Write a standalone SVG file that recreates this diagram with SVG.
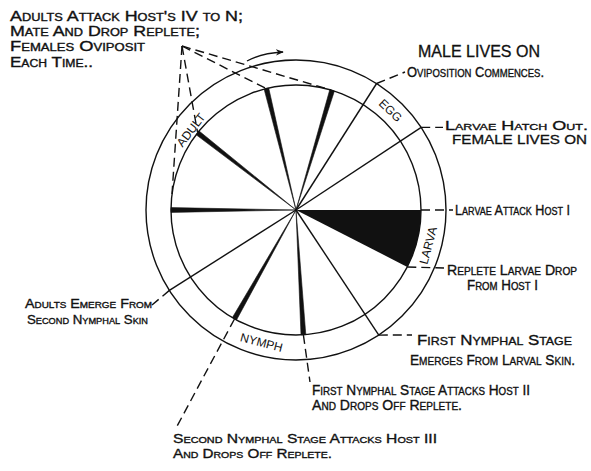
<svg xmlns="http://www.w3.org/2000/svg" width="591" height="471" viewBox="0 0 591 471">
<defs>
<marker id="ah" viewBox="0 0 10 10" refX="9" refY="5" markerWidth="8" markerHeight="8" orient="auto" markerUnits="userSpaceOnUse">
<path d="M0,1 L10,5 L0,9 L3,5 Z" fill="#111"/>
</marker>
<style>
.t{font-family:"Liberation Sans",Arial,sans-serif;font-variant:small-caps;fill:#111;stroke:#111;stroke-width:0.35;}
.c{font-family:"Liberation Sans",Arial,sans-serif;fill:#111;stroke:#111;stroke-width:0.3;}
.ring{font-family:"Liberation Sans",Arial,sans-serif;fill:#111;font-size:12px;text-anchor:middle;dominant-baseline:central;}
.ln{stroke:#111;stroke-width:1.4;fill:none;}
.ds{stroke:#111;stroke-width:1.4;fill:none;stroke-dasharray:9 5;}
.thick{fill:#111;stroke:#111;stroke-width:0.6;}
</style>
</defs>
<rect width="591" height="471" fill="#fff"/>

<g id="wheel">
<circle class="ln" cx="296" cy="210" r="150"/>
<circle class="ln" cx="296" cy="210" r="125"/>
<path d="M296,210 L421,210 A125,125 0 0 1 407.3,266.9 Z" fill="#111"/>
<polygon class="thick" points="296,210 171,212.4 171,207.6"/>
<polygon class="thick" points="296,210 199.1,131 196.2,134.8"/>
<polygon class="thick" points="296,210 268.7,88 264.1,89.1"/>
<polygon class="thick" points="296,210 334.4,91 329.8,89.6"/>
<polygon class="thick" points="296,210 232.4,317.6 236.5,320"/>
<polygon class="thick" points="296,210 301,334.9 305.8,334.7"/>
<line class="ln" x1="296" y1="210" x2="376.6" y2="83.5"/>
<line class="ln" x1="296" y1="210" x2="421.2" y2="127.4"/>
<line class="ln" x1="296" y1="210" x2="169.4" y2="290.4"/>
<line class="ln" x1="296" y1="210" x2="378.8" y2="335.1"/>
</g>

<g id="ring-labels">
<text class="ring" transform="translate(390.3,110.6) rotate(43.5)">EGG</text>
<text class="ring" transform="translate(191,130) rotate(-52.7)">ADULT</text>
<text class="ring" transform="translate(428.3,245.5) rotate(-75)">LARVA</text>
<text class="ring" transform="translate(261.5,342.6) rotate(14.6)">NYMPH</text>
</g>

<g id="connectors">
<line class="ds" x1="182" y1="46" x2="172" y2="194"/>
<line class="ds" x1="182" y1="46" x2="197.5" y2="132"/>
<line class="ds" x1="182" y1="46" x2="266" y2="88.5"/>
<line class="ds" x1="182" y1="46" x2="331" y2="90"/>
<path class="ln" d="M247,61 Q262,53 283,52" marker-end="url(#ah)"/>
<line class="ds" x1="376.6" y1="83.5" x2="405" y2="72"/>
<line class="ds" x1="421.2" y1="127.4" x2="443" y2="127.4"/>
<line class="ds" x1="421" y1="210" x2="453" y2="210"/>
<line class="ds" x1="407.3" y1="267" x2="444" y2="268"/>
<line class="ds" x1="378.8" y1="335.1" x2="412" y2="335"/>
<line class="ds" x1="169.4" y1="290.4" x2="152" y2="305"/>
<line class="ds" x1="234.5" y1="319" x2="175" y2="430"/>
<line class="ds" x1="303.4" y1="335" x2="310" y2="382"/>
</g>

<g id="adults-attack">
<text class="t" x="10" y="21" font-size="14" textLength="233" lengthAdjust="spacingAndGlyphs">Adults Attack Host's IV to N;</text>
<text class="t" x="10" y="36" font-size="14" textLength="190" lengthAdjust="spacingAndGlyphs">Mate And Drop Replete;</text>
<text class="t" x="10" y="51" font-size="14" textLength="135" lengthAdjust="spacingAndGlyphs">Females Oviposit</text>
<text class="t" x="10" y="67" font-size="14" textLength="83" lengthAdjust="spacingAndGlyphs">Each Time..</text>
</g>

<g id="oviposition">
<text class="c" x="418" y="57" font-size="16" textLength="122" lengthAdjust="spacingAndGlyphs">MALE LIVES ON</text>
<text class="t" x="407" y="77" font-size="15" textLength="137" lengthAdjust="spacingAndGlyphs">Oviposition Commences.</text>
</g>

<g id="larvae-hatch">
<text class="t" x="445" y="130" font-size="13" textLength="143" lengthAdjust="spacingAndGlyphs">Larvae Hatch Out.</text>
<text class="c" x="452" y="144" font-size="12.5" textLength="135" lengthAdjust="spacingAndGlyphs">FEMALE LIVES ON</text>
</g>

<g id="larvae-attack">
<text class="t" x="455" y="215" font-size="14" textLength="115" lengthAdjust="spacingAndGlyphs">Larvae Attack Host I</text>
</g>

<g id="replete-larvae">
<text class="t" x="447" y="275" font-size="14" textLength="130" lengthAdjust="spacingAndGlyphs">Replete Larvae Drop</text>
<text class="t" x="467" y="290" font-size="14" textLength="71" lengthAdjust="spacingAndGlyphs">From Host I</text>
</g>

<g id="first-nymphal-emerges">
<text class="t" x="417" y="345" font-size="15" textLength="155" lengthAdjust="spacingAndGlyphs">First Nymphal Stage</text>
<text class="t" x="410" y="365" font-size="15" textLength="165" lengthAdjust="spacingAndGlyphs">Emerges From Larval Skin.</text>
</g>

<g id="adults-emerge">
<text class="t" x="25" y="308" font-size="13" textLength="127" lengthAdjust="spacingAndGlyphs">Adults Emerge From</text>
<text class="t" x="27" y="324" font-size="13" textLength="121" lengthAdjust="spacingAndGlyphs">Second Nymphal Skin</text>
</g>

<g id="first-nymphal-attacks">
<text class="t" x="312" y="395" font-size="14" textLength="218" lengthAdjust="spacingAndGlyphs">First Nymphal Stage Attacks Host II</text>
<text class="t" x="312" y="410" font-size="14" textLength="150" lengthAdjust="spacingAndGlyphs">And Drops Off Replete.</text>
</g>

<g id="second-nymphal-attacks">
<text class="t" x="173" y="443" font-size="13" textLength="264" lengthAdjust="spacingAndGlyphs">Second Nymphal Stage Attacks Host III</text>
<text class="t" x="173" y="458" font-size="13" textLength="159" lengthAdjust="spacingAndGlyphs">And Drops Off Replete.</text>
</g>
</svg>
